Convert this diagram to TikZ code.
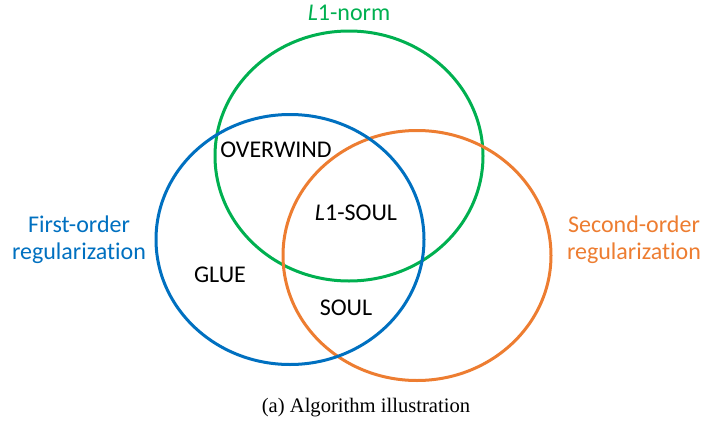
\documentclass[tikz,border=0pt]{standalone}
\usepackage{fontspec}
\setmainfont{Carlito}[Ligatures={NoCommon}]
\newfontfamily\capfont{Liberation Serif}
\usetikzlibrary{shapes.geometric}
\definecolor{vgreen}{HTML}{00B050}
\definecolor{vblue}{HTML}{0070C0}
\definecolor{vorange}{HTML}{ED7D31}
\tikzset{
  setshape/.style={ellipse, draw=#1, line width=3pt, minimum width=268pt, minimum height=250pt, inner sep=0pt},
  inlabel/.style={font=\fontsize{24}{28}\selectfont, text=black, inner sep=0pt},
  setlabel/.style={font=\fontsize{24}{27}\selectfont, text=#1, inner sep=0pt, align=center},
}
\begin{document}
\begin{tikzpicture}[x=1pt, y=-1pt]
\useasboundingbox (0,0) rectangle (726,426);
\node[setshape=vgreen] (green) at (349,156) {};
\node[setshape=vorange] (orange) at (417,255.5) {};
\node[setshape=vblue] (blue) at (290,239.5) {};
\node[setlabel=vgreen] (l1norm) at (349,13) {\textit{L}1-norm};
\node[setlabel=vblue] (first) at (79,240) {First-order\\regularization};
\node[setlabel=vorange] (second) at (634,240) {Second-order\\regularization};
\node[inlabel] (overwind) at (276,150) {OVERWIND};
\node[inlabel] (l1soul) at (356,213) {\textit{L}1-SOUL};
\node[inlabel] (glue) at (220,275) {GLUE};
\node[inlabel] (soul) at (346,308) {SOUL};
\node[font=\capfont\fontsize{20.6}{24}\selectfont, inner sep=0pt] (caption) at (366,408) {(a) Algorithm illustration};
\end{tikzpicture}
\end{document}
